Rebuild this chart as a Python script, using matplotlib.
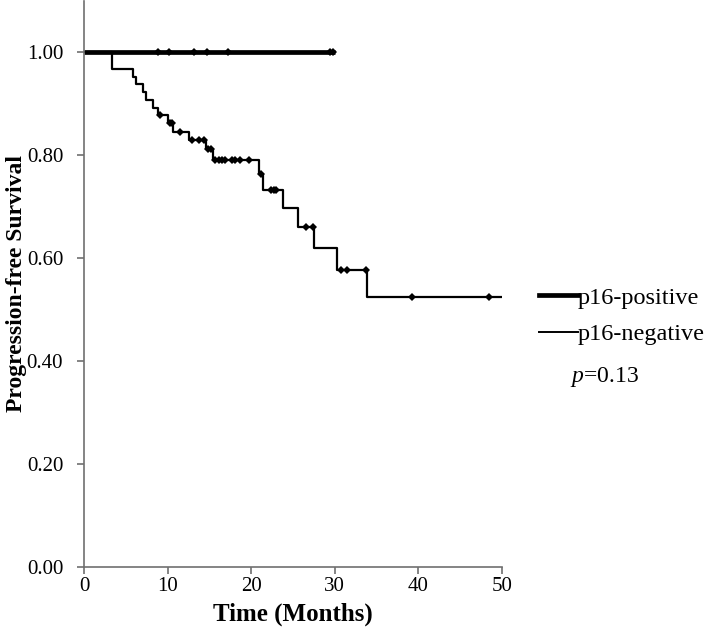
import numpy as np
import matplotlib.pyplot as plt
from matplotlib.lines import Line2D

plt.rcParams['font.family'] = 'Liberation Serif'
plt.rcParams['mathtext.fontset'] = 'custom'
plt.rcParams['mathtext.rm'] = 'Liberation Serif'
plt.rcParams['mathtext.it'] = 'Liberation Serif:italic'

# p16-positive: no events, censored observations only
pos_t = [0, 30.0]
pos_s = [1.0, 1.0]
pos_censor = [8.9, 10.2, 13.2, 14.7, 17.2, 29.4, 29.8]

# p16-negative: step times and survival after each step
neg_t = [0, 3.4, 5.9, 6.2, 7.0, 7.4, 8.2, 8.9, 10.1, 10.7, 12.6, 14.6, 15.4,
         20.9, 21.4, 23.8, 25.6, 27.55, 30.3, 33.8, 50.0]
neg_s = [1.0, 0.968, 0.952, 0.939, 0.923, 0.907, 0.891, 0.877, 0.862, 0.845,
         0.829, 0.812, 0.790, 0.764, 0.732, 0.697, 0.661, 0.619, 0.577, 0.524, 0.524]
neg_censor = [9.1, 10.3, 10.55, 11.5, 12.9, 13.7, 14.3, 14.8, 15.2, 15.7, 16.1,
              16.5, 16.9, 17.7, 18.1, 18.7, 19.7, 21.2, 22.4, 22.7, 23.0, 26.6,
              27.4, 30.7, 31.4, 33.7, 39.2, 48.4]

xticks = [0, 10, 20, 30, 40, 50]
yticks = [0.0, 0.2, 0.4, 0.6, 0.8, 1.0]


def surv_at(times, steps_t, steps_s):
    idx = np.searchsorted(steps_t, times, side='right') - 1
    return np.array(steps_s)[idx]


fig = plt.figure(figsize=(7.09, 6.3), dpi=100)
ax = fig.add_axes([84 / 709, 0.1, 418 / 709, 0.899])

ax.plot(pos_t, pos_s, color='black', lw=3.4, solid_capstyle='butt')
ax.plot(pos_censor, surv_at(pos_censor, pos_t, pos_s), 'D', color='black',
        ms=4.3, mew=0)
ax.step(neg_t, neg_s, where='post', color='black', lw=1.6)
ax.plot(neg_censor, surv_at(neg_censor, neg_t, neg_s), 'D', color='black',
        ms=4.3, mew=0)

ax.set_xlim(0, 50)
ax.set_ylim(0, 1.1)
ax.set_xticks(xticks)
ax.set_yticks(yticks)
ax.set_yticklabels([f"{v:.2f}" for v in yticks])

for s in ['top', 'right']:
    ax.spines[s].set_visible(False)
for s in ['left', 'bottom']:
    ax.spines[s].set_color('#6f6f6f')
    ax.spines[s].set_linewidth(1.2)
ax.tick_params(direction='out', length=5, width=1.2, color='#6f6f6f',
               labelsize=15)
ax.tick_params(axis='y', pad=10)
ax.tick_params(axis='x', pad=2)

ax.set_xlabel('Time (Months)', fontsize=18, fontweight='bold', labelpad=5)
ax.set_ylabel('Progression-free Survival', fontsize=17, fontweight='bold')
ax.yaxis.set_label_coords(-0.137, 0.5)

handles = [Line2D([], [], color='black', lw=3.4),
           Line2D([], [], color='black', lw=1.4)]
ax.legend(handles, ['p16-positive', 'p16-negative'], loc='center left',
          bbox_to_anchor=(539 / 709, 1 - 316 / 630), bbox_transform=fig.transFigure,
          frameon=False, fontsize=17.5, handlelength=1.6, handletextpad=0.0,
          borderpad=0, borderaxespad=0, labelspacing=0.6)

fig.text(570 / 709, 1 - 377 / 630, r'$p$=0.13', fontsize=17, va='center')

fig.savefig('out.png', dpi=100)
